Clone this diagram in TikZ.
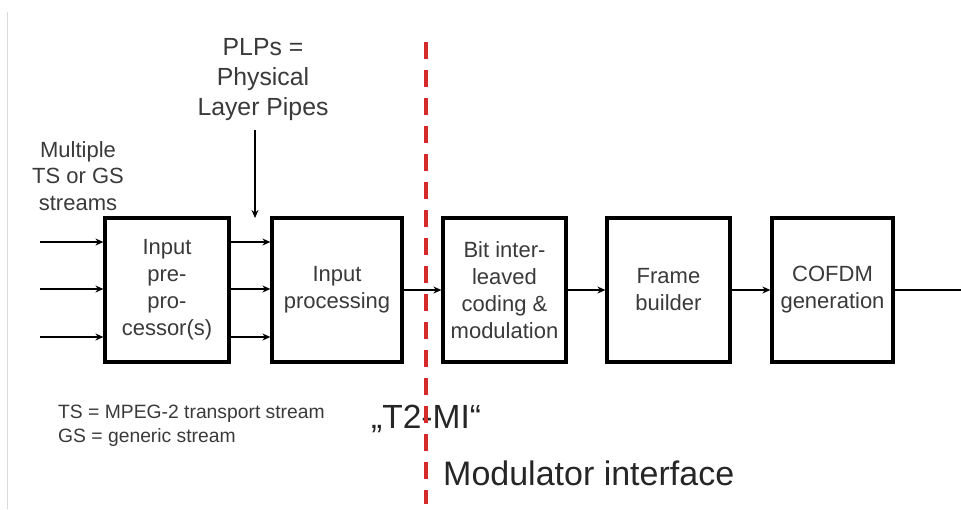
\documentclass[tikz,border=0pt]{standalone}
\usepackage{fontspec}
\setmainfont{Liberation Sans}
\usetikzlibrary{arrows.meta}
\definecolor{txt}{HTML}{3A3A3A}
\definecolor{dred}{HTML}{D42A2A}
\begin{document}
\begin{tikzpicture}[x=1pt,y=-1pt,
  blk/.style={draw=black,line width=3.2pt,inner sep=0pt,minimum height=144pt,
    text=txt,align=center,font=\fontsize{22}{27}\selectfont},
  arr/.style={line width=2.7pt,-{Stealth[length=8pt,width=7pt]}},
  lbl/.style={text=txt,align=center,inner sep=0pt}]
\useasboundingbox (0,0) rectangle (961,509);
\fill[white] (0,0) rectangle (961,509);
\draw[black!15,line width=1pt] (7.5,12) -- (7.5,509);

% blocks
\node[blk,minimum width=124pt] (b1) at (167,290) {Input\\pre-\\pro-\\cessor(s)};
\node[blk,minimum width=130pt] (b2) at (337,290) {Input\\processing};
\node[blk,minimum width=123pt] (b3) at (504.5,290) {Bit inter-\\leaved\\coding \&\\modulation};
\node[blk,minimum width=123pt] (b4) at (668.5,290) {Frame\\builder};
\node[blk,minimum width=121pt] (b5) at (832.5,290) {COFDM\\generation};

% inputs
\coordinate (i1) at (40,242);
\coordinate (i2) at (40,289);
\coordinate (i3) at (40,337);
\foreach \c in {i1,i2,i3}{
  \draw[arr] (\c) -- (b1.west |- \c);
  \draw[arr] (b1.east |- \c) -- (b2.west |- \c);
}
\draw[arr] (b2.east) -- (b3.west);
\draw[arr] (b3.east) -- (b4.west);
\draw[arr] (b4.east) -- (b5.west);
\coordinate (out) at (961,290);
\draw[line width=2.7pt] (b5.east) -- (out);

% labels
\node[lbl,font=\fontsize{22}{26.5}\selectfont] (multi) at (78,176) {Multiple\\TS or GS\\streams};
\node[lbl,font=\fontsize{24.8}{30}\selectfont] (plp) at (263,80) {PLPs =\\Physical\\Layer Pipes};
\coordinate (plpa) at (255,130);
\coordinate (plpb) at (255,218);
\draw[arr] (plpa) -- (plpb);

\node[lbl,anchor=base west,font=\fontsize{19.3}{24}\selectfont,align=left] (abbr) at (58,442) {TS = MPEG-2 transport stream\\GS = generic stream};
\node[anchor=base west,inner sep=0pt,text=black!85,font=\fontsize{33.5}{38}\selectfont] (t2mi) at (371,428) {„T2-MI“};
\node[anchor=base west,inner sep=0pt,text=black!85,font=\fontsize{34}{38}\selectfont] (modi) at (443,485) {Modulator interface};

% dashed interface line
\coordinate (rd1) at (426,42);
\coordinate (rd2) at (426,504);
\draw[dred,line width=4pt,dash pattern=on 17pt off 11pt] (rd1) -- (rd2);
\end{tikzpicture}
\end{document}
